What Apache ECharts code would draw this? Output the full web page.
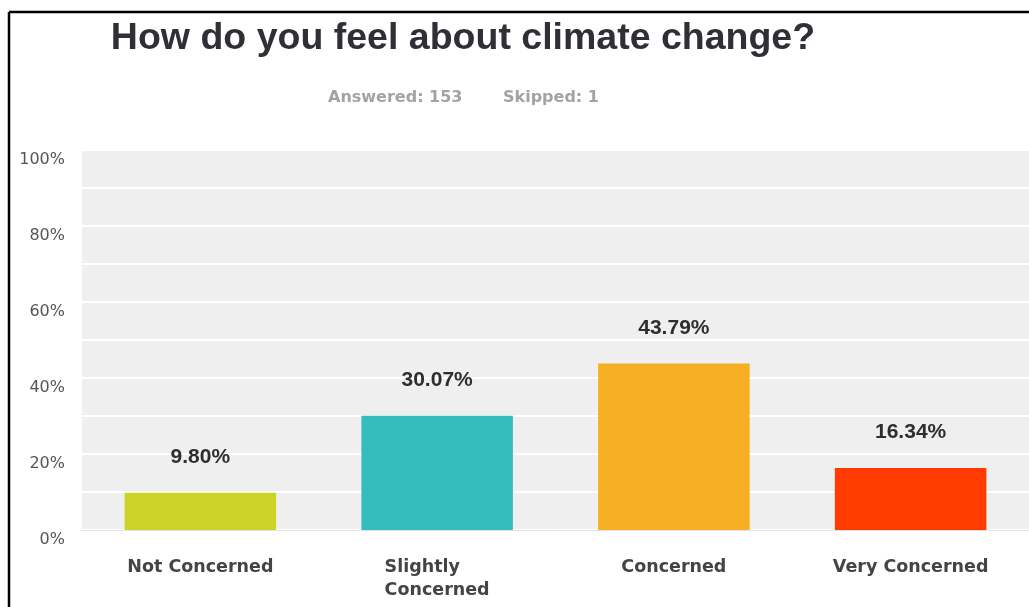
<!DOCTYPE html>
<html>
<head>
<meta charset="utf-8">
<script src="https://cdn.jsdelivr.net/npm/echarts@6/dist/echarts.min.js"></script>
<style>
html,body{margin:0;padding:0;background:#fff;overflow:hidden;}
#chart{width:1029px;height:607px;}
</style>
</head>
<body>
<div id="chart"></div>
<script>
const titleText = 'How do you feel about climate change?';
const answeredText = 'Answered: 153';
const skippedText = 'Skipped: 1';
const categories = ['Not Concerned', 'Slightly\nConcerned', 'Concerned', 'Very Concerned'];
const values = [9.80, 30.07, 43.79, 16.34];
const barColors = ['#cdd326', '#34bdbc', '#f6ae23', '#ff3b00'];
const yLabelTicks = [0, 20, 40, 60, 80, 100];

const chart = echarts.init(document.getElementById('chart'), null, {renderer: 'canvas'});
const option = {
  backgroundColor: '#ffffff',
  animation: false,
  graphic: [
    {type: 'line', shape: {x1: 9, y1: 12, x2: 1200, y2: 12}, style: {stroke: '#000', lineWidth: 2.5}, silent: true},
    {type: 'line', shape: {x1: 9, y1: 12, x2: 9, y2: 800}, style: {stroke: '#000', lineWidth: 2.5}, silent: true},
    {type: 'text', x: 463, y: 38.5, style: {text: titleText, fill: '#2e3035', font: 'bold 37.5px "Liberation Sans", Arial, sans-serif', align: 'center', verticalAlign: 'middle'}},
    {type: 'text', x: 328, y: 98, style: {text: answeredText, fill: '#a3a3a3', font: 'bold 16px "DejaVu Sans", Verdana, sans-serif', align: 'left', verticalAlign: 'middle'}},
    {type: 'text', x: 503, y: 98, style: {text: skippedText, fill: '#a3a3a3', font: 'bold 16px "DejaVu Sans", Verdana, sans-serif', align: 'left', verticalAlign: 'middle'}}
  ],
  grid: {left: 82, top: 150, width: 950, height: 380, show: true, backgroundColor: '#efefef', borderWidth: 0, containLabel: false},
  xAxis: {
    type: 'category',
    data: categories,
    axisTick: {show: false},
    axisLine: {show: true, lineStyle: {color: '#e2e2e2', width: 1}},
    axisLabel: {
      margin: 26,
      interval: 0,
      formatter: function (v) { return v.split('\n').map(function (s) { return '{a|' + s + '}'; }).join('\n'); },
      rich: {a: {align: 'left', fontFamily: '"DejaVu Sans", Verdana, sans-serif', fontWeight: 'bold', fontSize: 17.5, color: '#444444', lineHeight: 23}}
    }
  },
  yAxis: {
    type: 'value',
    min: 0, max: 100, interval: 10,
    axisLine: {show: false},
    axisTick: {show: false},
    splitLine: {show: true, lineStyle: {color: '#ffffff', width: 2}},
    axisLabel: {
      margin: 17,
      formatter: function (v) { return yLabelTicks.indexOf(v) >= 0 ? v + '%' : ''; },
      fontFamily: '"DejaVu Sans", sans-serif', fontSize: 16, color: '#555555',
      verticalAlign: 'top', lineHeight: 20
    }
  },
  series: [{
    type: 'bar',
    data: values.map(function (v, i) { return {value: v, itemStyle: {color: barColors[i]}}; }),
    barWidth: '64%',
    label: {
      show: true, position: 'top', distance: 25,
      formatter: function (p) { return p.value.toFixed(2) + '%'; },
      fontFamily: '"Liberation Sans", Arial, sans-serif', fontWeight: 'bold', fontSize: 21, color: '#2e2e2e'
    }
  }]
};
chart.setOption(option);
</script>
</body>
</html>
